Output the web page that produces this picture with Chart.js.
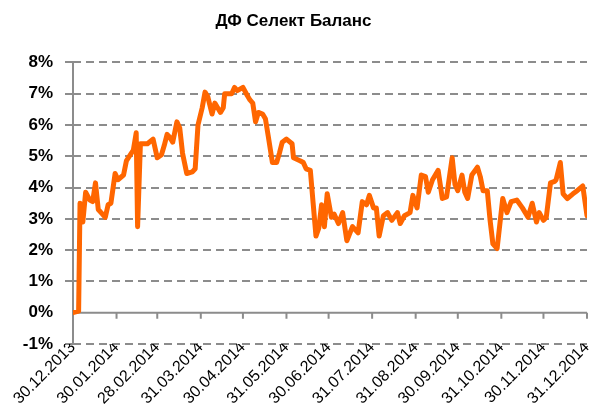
<!DOCTYPE html>
<html>
<head>
<meta charset="utf-8">
<script src="https://cdn.jsdelivr.net/npm/chart.js@4"></script>
<style>
  html, body { margin: 0; padding: 0; background: #fff; }
  #wrap { width: 593px; height: 410px; }
</style>
</head>
<body>
<div id="wrap"><canvas id="fundChart" width="593" height="410"></canvas></div>
<script>
/* ===== DATA ===== */
// days counted from 30.12.2013
const days = [
  0, 4, 5, 7, 9, 12, 14, 16, 18, 20, 23, 25, 27, 30, 32, 36, 38, 43, 45, 46,
  48, 53, 57, 60, 63, 65, 67, 69, 71, 74, 76, 78, 81, 85, 87, 89, 92, 94, 96, 99,
  101, 105, 107, 108, 113, 115, 117, 121, 124, 126, 128, 130, 132, 135, 137, 139, 142, 145, 147, 149,
  152, 156, 157, 162, 164, 166, 169, 171, 173, 175, 177, 179, 181, 184, 186, 189, 192, 195, 199, 203,
  206, 209, 211, 214, 216, 218, 221, 224, 227, 231, 233, 236, 240, 242, 245, 248, 251, 253, 256, 260,
  263, 266, 270, 272, 274, 277, 279, 281, 284, 288, 290, 292, 295, 297, 299, 302, 306, 309, 312, 316,
  320, 324, 327, 330, 332, 335, 337, 340, 343, 344, 347, 349, 352, 356, 359, 363, 366
];
// return, %
const values = [
  0, 0.05, 3.5, 2.9, 3.85, 3.6, 3.55, 4.15, 3.3, 3.2, 3.05, 3.45, 3.5, 4.45, 4.25, 4.4, 4.85, 5.2, 5.75, 2.75,
  5.4, 5.4, 5.55, 4.95, 5.05, 5.35, 5.7, 5.6, 5.45, 6.1, 5.9, 5.1, 4.45, 4.5, 4.6, 6.0, 6.55, 7.05, 6.9, 6.35,
  6.7, 6.4, 6.55, 7.0, 7.0, 7.2, 7.1, 7.2, 6.95, 6.8, 6.7, 6.1, 6.4, 6.35, 6.2, 5.65, 4.8, 4.8, 5.1, 5.45,
  5.55, 5.4, 4.95, 4.85, 4.8, 4.6, 4.55, 3.5, 2.45, 2.7, 3.45, 2.75, 3.8, 3.05, 3.15, 2.85, 3.2, 2.3, 2.75, 2.55,
  3.55, 3.45, 3.75, 3.35, 3.35, 2.45, 3.1, 3.2, 2.95, 3.2, 2.85, 3.1, 3.2, 3.75, 3.35, 4.4, 4.35, 3.85, 4.25, 4.55,
  3.65, 3.7, 4.95, 4.1, 3.9, 4.4, 3.85, 3.65, 4.4, 4.65, 4.35, 3.9, 3.9, 2.95, 2.2, 2.05, 3.65, 3.2, 3.55, 3.6,
  3.35, 3.05, 3.5, 2.9, 3.2, 2.95, 3.05, 4.15, 4.2, 4.25, 4.8, 3.8, 3.65, 3.8, 3.9, 4.05, 3.1
];
const tickDays = [0, 31, 60, 91, 121, 152, 182, 213, 244, 274, 305, 335, 366];
const tickLabels = [
  "30.12.2013", "30.01.2014", "28.02.2014", "31.03.2014", "30.04.2014", "31.05.2014",
  "30.06.2014", "31.07.2014", "31.08.2014", "30.09.2014", "31.10.2014", "30.11.2014", "31.12.2014"
];
const chartTitle = "ДФ Селект Баланс";

/* ===== AXIS LINES PLUGIN ===== */
// solid y axis line, solid 0% line with month tick marks
const axisLines = {
  id: "axisLines",
  beforeDatasetsDraw(chart) {
    const { ctx, chartArea, scales } = chart;
    const y0 = scales.y.getPixelForValue(0);
    ctx.save();
    ctx.strokeStyle = "#8c8c8c";
    ctx.lineWidth = 2;
    ctx.beginPath();
    ctx.moveTo(chartArea.left, chartArea.top);
    ctx.lineTo(chartArea.left, chartArea.bottom);
    ctx.moveTo(chartArea.left, y0);
    ctx.lineTo(chartArea.right, y0);
    scales.x.ticks.forEach(t => {
      const x = scales.x.getPixelForValue(t.value);
      ctx.moveTo(x, y0);
      ctx.lineTo(x, y0 + 6);
    });
    ctx.stroke();
    ctx.restore();
  }
};

/* ===== CHART ===== */
new Chart(document.getElementById("fundChart"), {
  type: "line",
  data: {
    datasets: [{
      data: days.map((d, i) => ({ x: d, y: values[i] })),
      borderColor: "#ff6600",
      borderWidth: 5,
      pointRadius: 0,
      tension: 0,
      borderJoinStyle: "round",
      borderCapStyle: "round"
    }]
  },
  options: {
    responsive: false,
    animation: false,
    layout: { padding: { left: 0, right: 6, top: 0, bottom: 0 } },
    plugins: {
      legend: { display: false },
      tooltip: { enabled: false },
      title: {
        display: true,
        text: chartTitle,
        color: "#000",
        font: { family: "Liberation Sans, Arial", size: 17, weight: "bold" },
        lineHeight: 1.2,
        padding: { top: 11, bottom: 31 }
      }
    },
    scales: {
      x: {
        type: "linear",
        min: 0,
        max: 366,
        afterBuildTicks: s => { s.ticks = tickDays.map(v => ({ value: v })); },
        afterFit: s => { s.height = 66; s.paddingLeft = 0; s.paddingRight = 0; },
        grid: { display: false },
        border: { display: false },
        ticks: {
          autoSkip: false,
          minRotation: 45,
          maxRotation: 45,
          padding: -14,
          color: "#000",
          font: { family: "Liberation Sans, Arial", size: 16 },
          callback: v => tickLabels[tickDays.indexOf(v)]
        }
      },
      y: {
        min: -1,
        max: 8,
        afterFit: s => { s.width = 73; },
        grid: {
          color: c => (c.tick && c.tick.value === 0 ? "rgba(0,0,0,0)" : "#8c8c8c"),
          lineWidth: 2,
          tickLength: 8
        },
        border: { display: false, dash: [8, 5] },
        ticks: {
          stepSize: 1,
          padding: 12,
          color: "#000",
          font: { family: "Liberation Sans, Arial", size: 17, weight: "bold" },
          callback: v => v + "%"
        }
      }
    }
  },
  plugins: [axisLines]
});
</script>
</body>
</html>
